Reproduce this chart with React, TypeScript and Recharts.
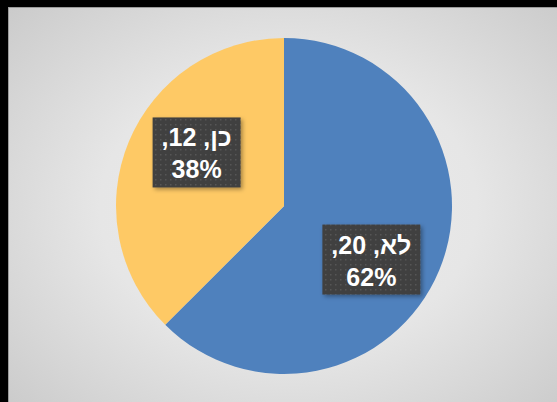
import React from "react";
import { PieChart, Pie, Cell } from "recharts";

// נתוני התרשים
const categories = ["לא", "כן"];
const values = [20, 12];
const colors = ["#4f81bd", "#fec965"];

const data = categories.map((name, i) => ({ name, value: values[i] }));
const total = values.reduce((a, b) => a + b, 0);

const RAD = Math.PI / 180;
const FAMILY = "'Liberation Sans', Arial, sans-serif";
const SIZE = 25;

// round half to even, like the reference shows 62% / 38%
function pct(v: number) {
  const p = (v / total) * 100;
  const f = Math.floor(p);
  const d = p - f;
  if (Math.abs(d - 0.5) < 1e-9) return f % 2 === 0 ? f : f + 1;
  return Math.round(p);
}

function textWidth(s: string) {
  const c = document.createElement("canvas").getContext("2d");
  if (!c) return s.length * 13;
  c.font = `bold ${SIZE}px ${FAMILY}`;
  return c.measureText(s).width;
}

function BoxLabel(props: any) {
  const { cx, cy, midAngle, outerRadius, index } = props;
  // excel "best fit" sits a bit clockwise of the slice middle
  const a = (midAngle - 9) * RAD;
  const r = outerRadius * 0.61;
  const x = cx + r * Math.cos(a);
  const y = cy - r * Math.sin(a);
  const line1 = `${categories[index]}, ${values[index]},`;
  const line2 = `${pct(values[index])}%`;
  const w = Math.max(textWidth(line1), textWidth(line2)) + 18;
  const h = 70;
  return (
    <g>
      <rect x={x - w / 2} y={y - h / 2} width={w} height={h} fill="url(#dots)" filter="url(#shadow)" />
      <text
        x={x}
        y={y}
        fill="#ffffff"
        textAnchor="middle"
        direction="rtl"
        fontFamily={FAMILY}
        fontSize={SIZE}
        fontWeight="bold"
        style={{ direction: "rtl", unicodeBidi: "embed" } as any}
      >
        <tspan x={x} y={y - 6}>{line1}</tspan>
        <tspan x={x} y={y + 26}>{line2}</tspan>
      </text>
    </g>
  );
}

export default function App() {
  return (
    <div style={{ position: "fixed", inset: 0, background: "#000", overflow: "hidden" }}>
      <div
        style={{
          position: "absolute",
          left: 8,
          top: 7,
          width: 560,
          height: 400,
          boxSizing: "border-box",
          borderTop: "1px solid #9a9a9a",
          borderLeft: "1px solid #9a9a9a",
          background: "radial-gradient(ellipse 75% 80% at 50% 50%, #ececec 0%, #e6e6e6 45%, #c6c6c6 100%)",
        }}
      >
        <PieChart width={550} height={395} margin={{ top: 0, right: 0, bottom: 0, left: 0 }}>
          <defs>
            <pattern id="dots" width="5" height="5" patternUnits="userSpaceOnUse">
              <rect width="5" height="5" fill="#3f3f3f" />
              <rect x="1" y="1" width="1.5" height="1.5" fill="#565656" />
            </pattern>
            <filter id="shadow" x="-20%" y="-20%" width="140%" height="140%">
              <feDropShadow dx="2" dy="2" stdDeviation="2" floodColor="#000" floodOpacity="0.35" />
            </filter>
          </defs>
          <Pie
            data={data}
            dataKey="value"
            cx={275}
            cy={198}
            outerRadius={168}
            startAngle={90}
            endAngle={-270}
            stroke="none"
            labelLine={false}
            label={BoxLabel}
            isAnimationActive={false}
          >
            {data.map((d, i) => (
              <Cell key={d.name} fill={colors[i]} />
            ))}
          </Pie>
        </PieChart>
      </div>
    </div>
  );
}
